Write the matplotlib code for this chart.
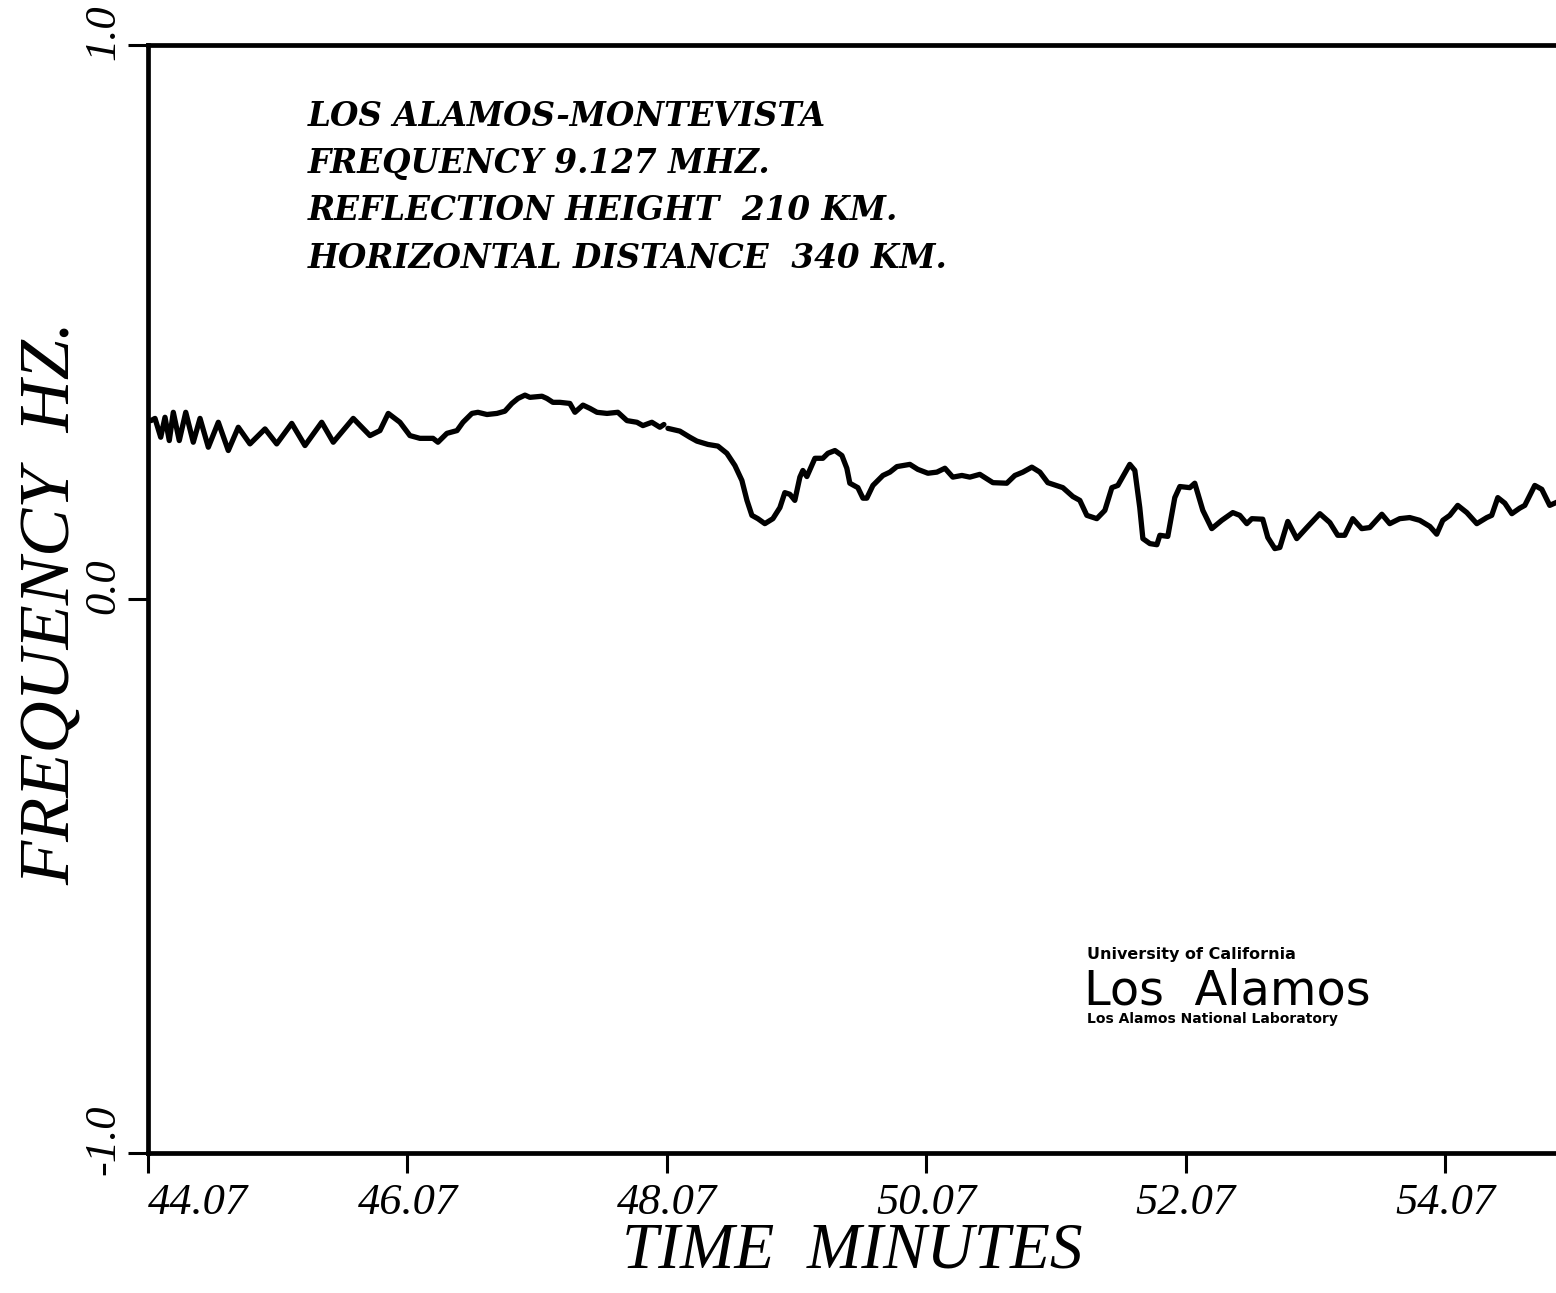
import numpy as np
import matplotlib
matplotlib.use("Agg")
import matplotlib.pyplot as plt
import matplotlib.transforms as mtransforms

# ---- data (time in minutes, frequency shift in Hz) ----
time_min = [
    44.093, 44.124, 44.168, 44.201, 44.234, 44.265, 44.311, 44.361, 44.419, 44.471,
    44.535, 44.612, 44.689, 44.766, 44.856, 44.972, 45.062, 45.178, 45.280, 45.409,
    45.498, 45.652, 45.781, 45.858, 45.922, 46.012, 46.089, 46.166, 46.267, 46.305,
    46.374, 46.452, 46.498, 46.567, 46.613, 46.683, 46.760, 46.821, 46.875, 46.922,
    46.976, 47.014, 47.107, 47.145, 47.191, 47.245, 47.322, 47.361, 47.423, 47.477,
    47.531, 47.608, 47.692, 47.762, 47.839, 47.885, 47.954, 48.016, 48.047, 48.062,
    48.078, 48.170, 48.247, 48.301, 48.386, 48.463, 48.532, 48.594, 48.648, 48.687,
    48.725, 48.771, 48.825, 48.887, 48.941, 48.979, 49.018, 49.056, 49.095, 49.118,
    49.149, 49.211, 49.272, 49.311, 49.365, 49.419, 49.457, 49.480, 49.542, 49.581,
    49.611, 49.658, 49.735, 49.789, 49.843, 49.943, 50.004, 50.082, 50.151, 50.213,
    50.274, 50.344, 50.405, 50.482, 50.583, 50.690, 50.752, 50.814, 50.883, 50.945,
    51.006, 51.122, 51.199, 51.253, 51.307, 51.384, 51.446, 51.500, 51.546, 51.638,
    51.677, 51.715, 51.739, 51.793, 51.847, 51.870, 51.931, 51.985, 52.024, 52.101,
    52.139, 52.201, 52.270, 52.347, 52.432, 52.486, 52.540, 52.579, 52.663, 52.702,
    52.756, 52.795, 52.856, 52.925, 53.003, 53.103, 53.180, 53.241, 53.295, 53.357,
    53.426, 53.488, 53.581, 53.642, 53.719, 53.796, 53.873, 53.951, 54.004, 54.051,
    54.105, 54.166, 54.236, 54.313, 54.390, 54.428, 54.475, 54.529, 54.583, 54.644,
    54.683, 54.760, 54.814, 54.875, 54.922, 54.968,
]
freq_hz = [
    0.322, 0.326, 0.292, 0.328, 0.286, 0.337, 0.286, 0.337, 0.283, 0.326,
    0.274, 0.319, 0.268, 0.310, 0.280, 0.307, 0.280, 0.317, 0.277, 0.319,
    0.283, 0.326, 0.295, 0.304, 0.335, 0.319, 0.295, 0.290, 0.290, 0.283,
    0.299, 0.304, 0.319, 0.335, 0.337, 0.333, 0.335, 0.339, 0.353, 0.362,
    0.368, 0.364, 0.366, 0.362, 0.355, 0.355, 0.353, 0.337, 0.350, 0.344,
    0.337, 0.335, 0.337, 0.322, 0.319, 0.313, 0.319, 0.310, 0.315, np.nan,
    0.308, 0.303, 0.292, 0.285, 0.279, 0.276, 0.263, 0.241, 0.214, 0.178,
    0.151, 0.145, 0.136, 0.145, 0.165, 0.192, 0.189, 0.178, 0.220, 0.232,
    0.221, 0.254, 0.254, 0.263, 0.268, 0.259, 0.236, 0.209, 0.201, 0.182,
    0.182, 0.205, 0.223, 0.229, 0.239, 0.243, 0.234, 0.227, 0.229, 0.236,
    0.220, 0.223, 0.220, 0.225, 0.210, 0.209, 0.223, 0.229, 0.238, 0.229,
    0.210, 0.201, 0.185, 0.178, 0.151, 0.145, 0.160, 0.201, 0.205, 0.243,
    0.232, 0.165, 0.109, 0.100, 0.098, 0.115, 0.113, 0.183, 0.203, 0.201,
    0.209, 0.160, 0.127, 0.142, 0.156, 0.151, 0.136, 0.145, 0.144, 0.111,
    0.091, 0.093, 0.140, 0.109, 0.129, 0.154, 0.138, 0.115, 0.115, 0.145,
    0.127, 0.129, 0.153, 0.136, 0.145, 0.147, 0.142, 0.131, 0.117, 0.142,
    0.151, 0.169, 0.156, 0.136, 0.147, 0.151, 0.183, 0.173, 0.154, 0.164,
    0.169, 0.205, 0.198, 0.169, 0.174, 0.178,
]

x_ticks = [44.07, 46.07, 48.07, 50.07, 52.07, 54.07]
x_tick_labels = ["44.07", "46.07", "48.07", "50.07", "52.07", "54.07"]
y_ticks = [-1.0, 0.0, 1.0]
y_tick_labels = ["-1.0", "0.0", "1.0"]

header_lines = [
    "LOS ALAMOS-MONTEVISTA",
    "FREQUENCY 9.127 MHZ.",
    "REFLECTION HEIGHT  210 KM.",
    "HORIZONTAL DISTANCE  340 KM.",
]

# ---- figure ----
W, H = 1556, 1293
fig = plt.figure(figsize=(W / 100, H / 100), dpi=100)
fig.patch.set_facecolor("white")

left_px, right_px, top_px, bottom_px = 148, 1575, 45, 1153
ax = fig.add_axes([left_px / W, 1 - bottom_px / H,
                   (right_px - left_px) / W, (bottom_px - top_px) / H])
ax.set_xlim(44.07, 55.07)
ax.set_ylim(-1.0, 1.0)

ax.plot(time_min, freq_hz, color="black", lw=3.8,
        solid_joinstyle="round", solid_capstyle="round")

serif = "Liberation Serif"

for s in ["left", "bottom", "top"]:
    ax.spines[s].set_linewidth(3.4)
ax.spines["right"].set_visible(False)

ax.set_xticks(x_ticks)
ax.set_xticklabels(x_tick_labels, fontfamily=serif, fontstyle="italic",
                   fontsize=32)
ax.set_yticks(y_ticks)
ax.set_yticklabels(y_tick_labels, fontfamily=serif, fontstyle="italic",
                   fontsize=32, rotation=90, va="center")
ax.tick_params(axis="x", direction="out", length=14.5, width=2.2, pad=7)
ax.tick_params(axis="y", direction="out", length=14.5, width=2.2, pad=3)
ax.xaxis.get_majorticklabels()[0].set_horizontalalignment("left")
shift_up = mtransforms.ScaledTranslation(0, 0.13, fig.dpi_scale_trans)
for lab in ax.yaxis.get_majorticklabels():
    lab.set_transform(lab.get_transform() + shift_up)

# axis titles
fig.text(852 / W, 1 - 1267 / H, "TIME  MINUTES", fontfamily=serif,
         fontstyle="italic", fontsize=47, ha="center", va="baseline")
fig.text(52 / W, 1 - 603 / H, "FREQUENCY  HZ.", fontfamily=serif,
         fontstyle="italic", fontsize=52, ha="center", va="center",
         rotation=90)

# header annotation
line_y = [117, 163, 210, 258]
for txt, yy in zip(header_lines, line_y):
    fig.text(308 / W, 1 - yy / H, txt, fontfamily="DejaVu Serif",
             fontstyle="italic", fontweight="bold", fontsize=23.5,
             ha="left", va="center")

# logo
fig.text(1087 / W, 1 - 955 / H, "University of California",
         fontfamily="DejaVu Sans", fontweight="bold", fontsize=11.5,
         ha="left", va="center")
fig.text(1084 / W, 1 - 991 / H, "Los  Alamos", fontfamily="DejaVu Sans",
         fontsize=34.5, ha="left", va="center")
fig.text(1087 / W, 1 - 1019 / H, "Los Alamos National Laboratory",
         fontfamily="DejaVu Sans", fontweight="bold", fontsize=10,
         ha="left", va="center")

fig.savefig("out.png", dpi=100, facecolor="white")
